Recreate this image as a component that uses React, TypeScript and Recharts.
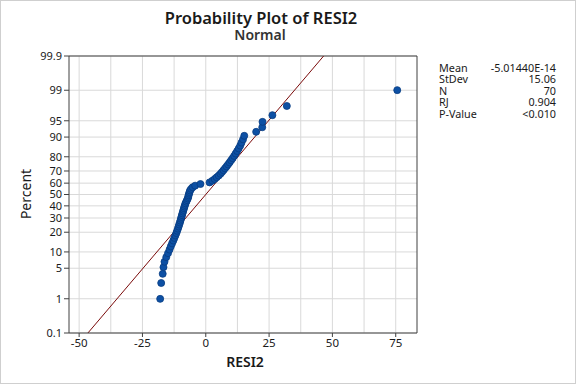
import React from "react";
import { ScatterChart, Scatter, XAxis, YAxis, ReferenceLine } from "recharts";

// ---- data ----
const RESI2 = [
  -18.0, -17.6, -17.0, -16.7, -16.3, -15.6, -14.9, -14.3, -13.8, -13.3,
  -12.8, -12.4, -12.0, -11.6, -11.3, -11.0, -10.7, -10.5, -10.2, -10.0,
  -9.8, -9.6, -9.4, -9.2, -9.0, -8.8, -8.6, -8.4, -8.2, -8.0,
  -7.7, -7.4, -7.1, -6.9, -6.8, -6.6, -6.4, -6.2, -5.8, -5.2,
  -4.2, -2.1, 1.5, 2.6, 3.5, 4.3, 5.1, 5.8, 6.4, 7.0,
  7.6, 8.2, 8.8, 9.4, 10.0, 10.6, 11.2, 11.8, 12.4, 13.0,
  13.6, 14.1, 14.7, 15.2, 19.9, 22.3, 22.4, 26.3, 32.0, 75.6,
];
const PERCENT = [
  0.994, 2.415, 3.835, 5.256, 6.676, 8.097, 9.517, 10.938, 12.358, 13.778,
  15.199, 16.619, 18.04, 19.46, 20.881, 22.301, 23.722, 25.142, 26.563, 27.983,
  29.403, 30.824, 32.244, 33.665, 35.085, 36.506, 37.926, 39.347, 40.767, 42.188,
  43.608, 45.028, 46.449, 47.869, 49.29, 50.71, 52.131, 53.551, 54.972, 56.392,
  57.813, 59.233, 60.653, 62.074, 63.494, 64.915, 66.335, 67.756, 69.176, 70.597,
  72.017, 73.438, 74.858, 76.278, 77.699, 79.119, 80.54, 81.96, 83.381, 84.801,
  86.222, 87.642, 89.063, 90.483, 91.903, 93.324, 94.744, 96.165, 97.585, 99.006,
];
const PCT_TICKS = [0.1, 1, 5, 10, 20, 30, 40, 50, 60, 70, 80, 90, 95, 99, 99.9];
const X_TICKS = [-50, -25, 0, 25, 50, 75];
const X_GRID = [-50, -37.5, -25, -12.5, 0, 12.5, 25, 37.5, 50, 62.5, 75];
const X_DOMAIN = [-54, 83.4];
const MEAN = -5.0144e-14;
const STDEV = 15.06;
const STAT_LABELS = ["Mean", "StDev", "N", "RJ", "P-Value"];
const STAT_VALUES = ["-5.01440E-14", "15.06", "70", "0.904", "<0.010"];

// inverse normal CDF (probability scale transform)
function probit(p: number): number {
  const a = [-3.969683028665376e1, 2.209460984245205e2, -2.759285104469687e2, 1.38357751867269e2, -3.066479806614716e1, 2.506628277459239];
  const b = [-5.447609879822406e1, 1.615858368580409e2, -1.556989798598866e2, 6.680131188771972e1, -1.328068155288572e1];
  const c = [-7.784894002430293e-3, -3.223964580411365e-1, -2.400758277161838, -2.549732539343734, 4.374664141464968, 2.938163982698783];
  const d = [7.784695709100167e-3, 3.224671290700398e-1, 2.445134137142996, 3.754408661907416];
  const pl = 0.02425;
  if (p < pl) {
    const q = Math.sqrt(-2 * Math.log(p));
    return (((((c[0] * q + c[1]) * q + c[2]) * q + c[3]) * q + c[4]) * q + c[5]) / ((((d[0] * q + d[1]) * q + d[2]) * q + d[3]) * q + 1);
  }
  if (p <= 1 - pl) {
    const q = p - 0.5;
    const r = q * q;
    return ((((((a[0] * r + a[1]) * r + a[2]) * r + a[3]) * r + a[4]) * r + a[5]) * q) / (((((b[0] * r + b[1]) * r + b[2]) * r + b[3]) * r + b[4]) * r + 1);
  }
  const q = Math.sqrt(-2 * Math.log(1 - p));
  return -(((((c[0] * q + c[1]) * q + c[2]) * q + c[3]) * q + c[4]) * q + c[5]) / ((((d[0] * q + d[1]) * q + d[2]) * q + d[3]) * q + 1);
}

const Z_TICKS = PCT_TICKS.map((p) => probit(p / 100));
const Z_MIN = Z_TICKS[0];
const Z_MAX = Z_TICKS[Z_TICKS.length - 1];
const points = RESI2.map((x, i) => ({ x, z: probit(PERCENT[i] / 100) }));
const fitSegment = [
  { x: MEAN + STDEV * Z_MIN, y: Z_MIN },
  { x: MEAN + STDEV * Z_MAX, y: Z_MAX },
];

const FONT = "'Noto Sans', 'Open Sans', sans-serif";
const TXT = "#1a1a1a";

function fmtY(v: number): string {
  let best = 0;
  Z_TICKS.forEach((z, i) => {
    if (Math.abs(z - v) < Math.abs(Z_TICKS[best] - v)) best = i;
  });
  return String(PCT_TICKS[best]);
}

const Dot = (props: any) => (
  <circle cx={props.cx} cy={props.cy} r={3.5} fill="#0d50a4" stroke="#083c82" strokeWidth={0.8} />
);

export default function App() {
  return (
    <div
      style={{
        position: "absolute",
        left: 0,
        top: 0,
        width: 576,
        height: 384,
        boxSizing: "border-box",
        border: "1px solid #cfcfcf",
        background: "#fff",
        fontFamily: FONT,
        color: TXT,
      }}
    >
      <div style={{ position: "absolute", left: -1, top: -1 }}>
        <ScatterChart width={576} height={384} margin={{ top: 56, right: 159, bottom: 21, left: 9 }}>
          {X_GRID.map((g) => (
            <ReferenceLine key={"gx" + g} x={g} stroke="#d9d9d9" strokeWidth={1} />
          ))}
          {Z_TICKS.map((z, i) => (
            <ReferenceLine key={"gy" + i} y={z} stroke="#d9d9d9" strokeWidth={1} />
          ))}
          <ReferenceLine x={X_DOMAIN[1]} stroke="#404040" strokeWidth={1} />
          <ReferenceLine y={Z_MAX} stroke="#404040" strokeWidth={1} />
          <XAxis
            type="number"
            dataKey="x"
            domain={X_DOMAIN}
            ticks={X_TICKS}
            interval={0}
            allowDataOverflow
            height={30}
            tickSize={4}
            stroke="#404040"
            tick={{ fill: TXT, fontSize: 11.5, fontFamily: FONT }}
          />
          <YAxis
            type="number"
            dataKey="z"
            domain={[Z_MIN, Z_MAX]}
            ticks={Z_TICKS}
            interval={0}
            tickFormatter={fmtY}
            allowDataOverflow
            width={60}
            tickSize={5}
            stroke="#404040"
            tick={{ fill: TXT, fontSize: 11, fontFamily: FONT }}
          />
          <ReferenceLine segment={fitSegment} stroke="#7a0a0a" strokeWidth={1} />
          <Scatter data={points} shape={Dot} isAnimationActive={false} />
        </ScatterChart>
      </div>
      <div style={{ position: "absolute", left: 0, width: 520, top: 8, textAlign: "center", fontSize: 16.5, fontWeight: 600, lineHeight: "18px" }}>
        Probability Plot of RESI2
      </div>
      <div style={{ position: "absolute", left: 0, width: 518, top: 26, textAlign: "center", fontSize: 14, fontWeight: 600, lineHeight: "16px", color: "#333" }}>
        Normal
      </div>
      <div style={{ position: "absolute", left: 194, width: 100, top: 353, textAlign: "center", fontSize: 14, fontWeight: 600, lineHeight: "16px" }}>
        RESI2
      </div>
      <div
        style={{
          position: "absolute",
          left: 25,
          top: 193,
          transform: "translate(-50%, -50%) rotate(-90deg)",
          fontSize: 14,
          lineHeight: "16px",
          whiteSpace: "nowrap",
        }}
      >
        Percent
      </div>
      {STAT_LABELS.map((l, i) => (
        <div key={l} style={{ position: "absolute", left: 438, width: 117, top: 61 + i * 11.4, height: 11, fontSize: 10.8, lineHeight: "11px", display: "flex", justifyContent: "space-between" }}>
          <span>{l}</span>
          <span>{STAT_VALUES[i]}</span>
        </div>
      ))}
    </div>
  );
}
